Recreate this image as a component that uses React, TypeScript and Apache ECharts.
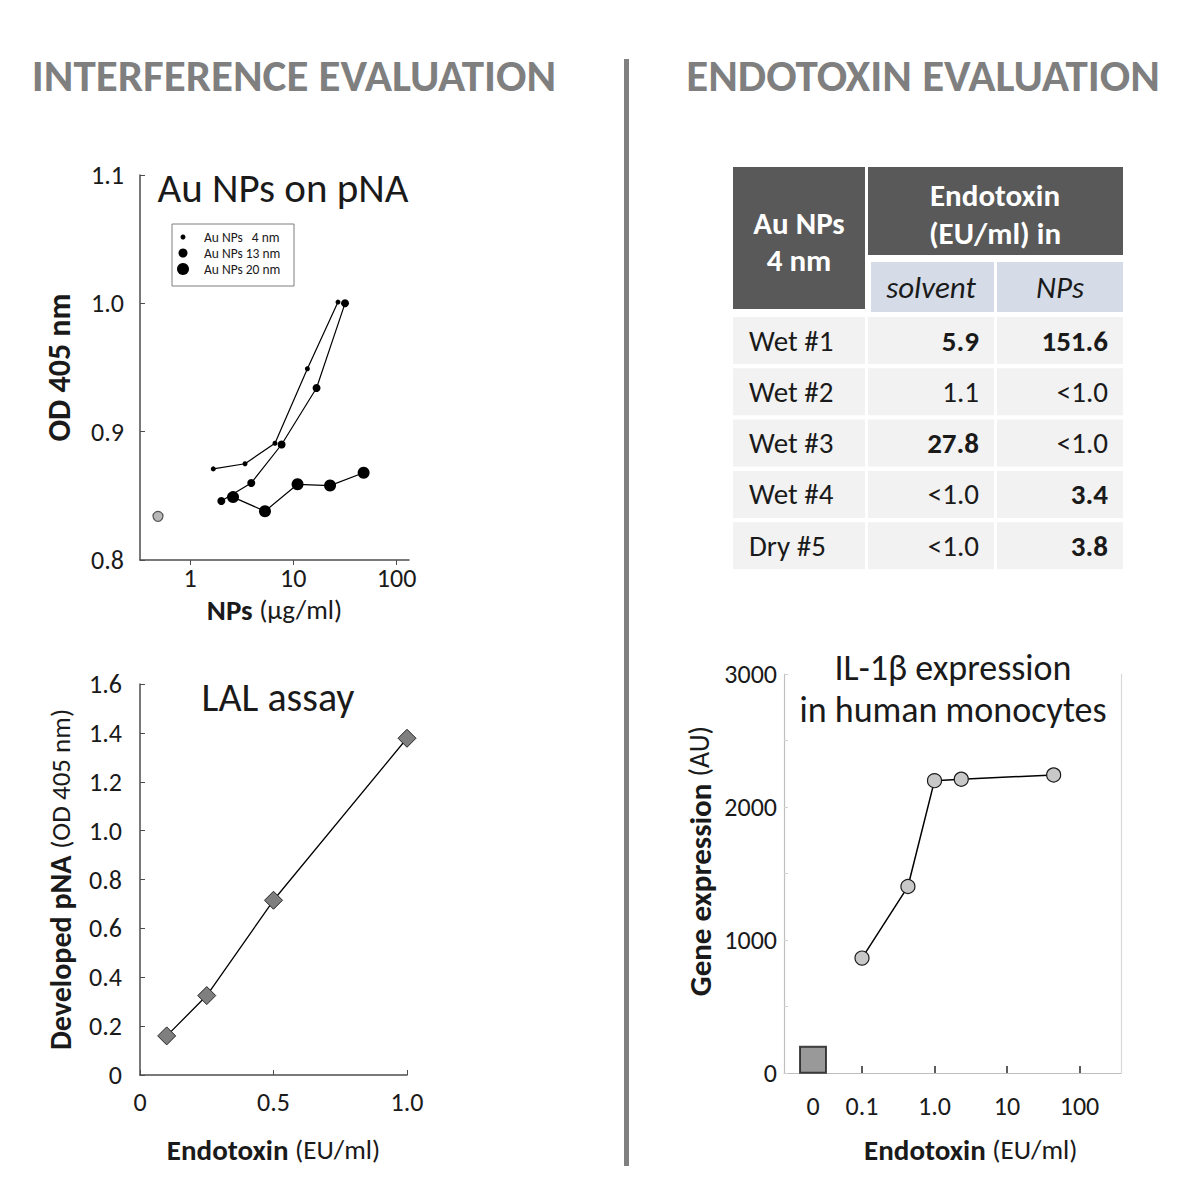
import React, { useEffect, useRef } from 'react';
import * as echarts from 'echarts';

const FONT = 'Carlito, Lato, "Open Sans", sans-serif';
const INK = '#1a1a1a';

// ---- Interference evaluation: Au NPs on pNA (OD 405 nm vs NPs µg/ml) ----
const np4X = [1.68, 3.41, 6.65, 13.7, 27.1];
const np4Y = [0.871, 0.875, 0.891, 0.949, 1.001];
const np13X = [2.01, 3.92, 7.71, 16.8, 31.7];
const np13Y = [0.846, 0.86, 0.89, 0.934, 1.0];
const np20X = [2.61, 5.32, 11.0, 22.7, 48.0];
const np20Y = [0.849, 0.838, 0.859, 0.858, 0.868];
const ctrlX = [0.49];
const ctrlY = [0.834];
const seriesNames = ['Au NPs   4 nm', 'Au NPs 13 nm', 'Au NPs 20 nm'];
const pnaXTicks = [1, 10, 100];

// ---- LAL assay ----
const lalX = [0.1, 0.25, 0.5, 1.0];
const lalY = [0.16, 0.325, 0.715, 1.378];

// ---- IL-1β expression ----
const ilX = [0.1, 0.43, 1.0, 2.34, 44];
const ilY = [864, 1402, 2198, 2209, 2241];
const ilZeroCat = ['0'];
const ilZeroY = [100];
const ilXLabels: Record<string, string> = { '0.1': '0.1', '1': '1.0', '10': '10', '100': '100' };

// ---- Endotoxin table ----
const tableRows = ['Wet #1', 'Wet #2', 'Wet #3', 'Wet #4', 'Dry #5'];
const solventVals = ['5.9', '1.1', '27.8', '<1.0', '<1.0'];
const npVals = ['151.6', '<1.0', '<1.0', '3.4', '3.8'];
const solventBold = [true, false, true, false, false];
const npBold = [true, false, false, true, true];

const zip = (xs: number[], ys: number[]) => xs.map((x, i) => [x, ys[i]]);

function buildTable(): any[] {
  const els: any[] = [];
  const dark = '#595959';
  const blue = '#d5dce8';
  const gray = '#f2f2f2';
  els.push({ type: 'rect', shape: { x: 733, y: 167, width: 132, height: 142 }, style: { fill: dark } });
  els.push({ type: 'text', x: 799, y: 241, style: { text: 'Au NPs\n4 nm', fill: '#fff', fontFamily: FONT, fontSize: 31, fontWeight: 'bold', lineHeight: 37, align: 'center', verticalAlign: 'middle' } });
  els.push({ type: 'rect', shape: { x: 868, y: 167, width: 255, height: 88 }, style: { fill: dark } });
  els.push({ type: 'text', x: 995, y: 214, style: { text: 'Endotoxin\n(EU/ml) in', fill: '#fff', fontFamily: FONT, fontSize: 31, fontWeight: 'bold', lineHeight: 38, align: 'center', verticalAlign: 'middle' } });
  els.push({ type: 'rect', shape: { x: 871, y: 262, width: 123, height: 50 }, style: { fill: blue } });
  els.push({ type: 'rect', shape: { x: 997, y: 262, width: 126, height: 50 }, style: { fill: blue } });
  els.push({ type: 'text', x: 931, y: 287, style: { text: 'solvent', fill: INK, fontFamily: FONT, fontSize: 31, fontStyle: 'italic', align: 'center', verticalAlign: 'middle' } });
  els.push({ type: 'text', x: 1060, y: 287, style: { text: 'NPs', fill: INK, fontFamily: FONT, fontSize: 31, fontStyle: 'italic', align: 'center', verticalAlign: 'middle' } });
  tableRows.forEach((r, i) => {
    const top = 317 + i * 51.3;
    const h = 47;
    const cy = top + h / 2;
    els.push({ type: 'rect', shape: { x: 733, y: top, width: 132, height: h }, style: { fill: gray } });
    els.push({ type: 'rect', shape: { x: 868, y: top, width: 126, height: h }, style: { fill: gray } });
    els.push({ type: 'rect', shape: { x: 997, y: top, width: 126, height: h }, style: { fill: gray } });
    els.push({ type: 'text', x: 749, y: cy, style: { text: r, fill: INK, fontFamily: FONT, fontSize: 29, align: 'left', verticalAlign: 'middle' } });
    els.push({ type: 'text', x: 979, y: cy, style: { text: solventVals[i], fill: INK, fontFamily: FONT, fontSize: 29, fontWeight: solventBold[i] ? 'bold' : 'normal', align: 'right', verticalAlign: 'middle' } });
    els.push({ type: 'text', x: 1108, y: cy, style: { text: npVals[i], fill: INK, fontFamily: FONT, fontSize: 29, fontWeight: npBold[i] ? 'bold' : 'normal', align: 'right', verticalAlign: 'middle' } });
  });
  return els;
}

const axisLineDark = { lineStyle: { color: '#4d4d4d', width: 1.5 } };
const labelStyle = { fontFamily: FONT, fontSize: 26, color: INK };
const nameRich = {
  b: { fontFamily: FONT, fontSize: 29, fontWeight: 'bold', color: INK },
  r: { fontFamily: FONT, fontSize: 27, color: INK },
};

function buildOption(): any {
  const legendCenters = [238, 254, 270];
  const legendSizes = [5, 9, 12];
  return {
    animation: false,
    backgroundColor: '#ffffff',
    textStyle: { fontFamily: FONT },
    grid: [
      { left: 140, top: 175, width: 269, height: 385, outerBoundsMode: 'none' },
      { left: 140, top: 684, width: 267, height: 391, outerBoundsMode: 'none' },
      { left: 784, top: 674, width: 337, height: 399, outerBoundsMode: 'none' },
      { left: 862, top: 674, width: 217.5, height: 399, outerBoundsMode: 'none' },
      { left: 800, top: 674, width: 26, height: 399, outerBoundsMode: 'none' },
    ],
    legend: seriesNames.map((n, i) => ({
      data: [{ name: n, icon: 'circle' }],
      left: 183 - legendSizes[i] / 2,
      top: legendCenters[i] - 8,
      itemWidth: legendSizes[i],
      itemHeight: legendSizes[i],
      padding: 0,
      selectedMode: false,
      textStyle: { fontFamily: FONT, fontSize: 13.5, color: INK, padding: [0, 0, 0, 16 - legendSizes[i] / 2] },
      z: 10,
    })),
    xAxis: [
      {
        gridIndex: 0, type: 'log', logBase: 10, min: 0.328, max: 132,
        axisLine: axisLineDark,
        axisTick: { inside: false, length: 5, lineStyle: { color: '#4d4d4d' }, customValues: pnaXTicks },
        axisLabel: { ...labelStyle, margin: 5, customValues: pnaXTicks, formatter: (v: number) => (pnaXTicks.includes(Math.round(v)) && Math.abs(v - Math.round(v)) < 1e-6 ? String(Math.round(v)) : '') },
        splitLine: { show: false },
        minorTick: { show: false },
        name: '{b|NPs }{r|(µg/ml)}', nameLocation: 'middle', nameGap: 35,
        nameTextStyle: { rich: nameRich },
      },
      {
        gridIndex: 1, type: 'value', min: 0, max: 1, interval: 0.5,
        axisLine: axisLineDark,
        axisTick: { inside: true, length: 5, lineStyle: { color: '#4d4d4d' } },
        axisLabel: { ...labelStyle, margin: 14, formatter: (v: number) => (v === 0 ? '0' : v.toFixed(1)) },
        splitLine: { show: false },
        name: '{b|Endotoxin }{r|(EU/ml)}', nameLocation: 'middle', nameGap: 60,
        nameTextStyle: { rich: nameRich },
      },
      {
        gridIndex: 2, type: 'value', min: 0, max: 1,
        axisLine: { lineStyle: { color: '#bfbfbf', width: 1.2 } },
        axisTick: { show: false }, axisLabel: { show: false }, splitLine: { show: false },
      },
      {
        gridIndex: 3, type: 'log', logBase: 10, min: 0.1, max: 100,
        axisLine: { show: false },
        axisTick: { inside: true, length: 7, lineStyle: { color: '#262626', width: 1.5 } },
        axisLabel: { ...labelStyle, margin: 20, formatter: (v: number) => ilXLabels[String(v)] ?? '' },
        splitLine: { show: false },
        minorTick: { show: false },
        name: '{b|Endotoxin }{r|(EU/ml)}', nameLocation: 'middle', nameGap: 62,
        nameTextStyle: { rich: nameRich },
      },
      {
        gridIndex: 4, type: 'category', data: ilZeroCat, boundaryGap: true,
        axisLine: { show: false }, axisTick: { show: false },
        axisLabel: { ...labelStyle, margin: 20 },
      },
    ],
    yAxis: [
      {
        gridIndex: 0, type: 'value', min: 0.8, max: 1.1, interval: 0.1,
        axisLine: { show: true, ...axisLineDark },
        axisTick: { show: true, inside: true, length: 5, lineStyle: { color: '#4d4d4d' } },
        axisLabel: { ...labelStyle, margin: 16, formatter: (v: number) => v.toFixed(1) },
        splitLine: { show: false },
        name: '{b|OD 405 nm}', nameLocation: 'middle', nameGap: 65,
        nameTextStyle: { rich: { b: { ...nameRich.b, fontSize: 32 } } },
      },
      {
        gridIndex: 1, type: 'value', min: 0, max: 1.6, interval: 0.2,
        axisLine: { show: true, ...axisLineDark },
        axisTick: { show: true, inside: true, length: 5, lineStyle: { color: '#4d4d4d' } },
        axisLabel: { ...labelStyle, margin: 18, formatter: (v: number) => (v === 0 ? '0' : v.toFixed(1)) },
        splitLine: { show: false },
        name: '{b|Developed pNA }{r|(OD 405 nm)}', nameLocation: 'middle', nameGap: 65,
        nameTextStyle: { rich: { b: { ...nameRich.b, fontSize: 30 }, r: { ...nameRich.r, fontSize: 27 } } },
      },
      {
        gridIndex: 2, type: 'value', min: 0, max: 3000, interval: 500,
        axisLine: { show: true, lineStyle: { color: '#bfbfbf', width: 1.2 } },
        axisTick: { show: true, inside: true, length: 4, lineStyle: { color: '#d0d0d0' } },
        axisLabel: { ...labelStyle, margin: 7, formatter: (v: number) => (v % 1000 === 0 ? String(v) : '') },
        splitLine: { show: false },
        name: '{b|Gene expression }{r|(AU)}', nameLocation: 'middle', nameGap: 69,
        nameTextStyle: { padding: [0, 0, 0, 25], rich: { b: { ...nameRich.b, fontSize: 31 }, r: { ...nameRich.r, fontSize: 28 } } },
      },
      {
        gridIndex: 2, type: 'value', min: 0, max: 3000, position: 'right',
        axisLine: { show: true, lineStyle: { color: '#d9d9d9', width: 1.2 } },
        axisTick: { show: false }, axisLabel: { show: false }, splitLine: { show: false },
      },
      { gridIndex: 3, type: 'value', min: 0, max: 3000, show: false },
      { gridIndex: 4, type: 'value', min: 0, max: 3000, show: false },
    ],
    series: [
      {
        name: seriesNames[0], type: 'line', xAxisIndex: 0, yAxisIndex: 0,
        data: zip(np4X, np4Y), symbol: 'circle', symbolSize: 5,
        itemStyle: { color: '#000' }, lineStyle: { color: '#000', width: 1.2 },
      },
      {
        name: seriesNames[1], type: 'line', xAxisIndex: 0, yAxisIndex: 0,
        data: zip(np13X, np13Y), symbol: 'circle', symbolSize: 8,
        itemStyle: { color: '#000' }, lineStyle: { color: '#000', width: 1.2 },
      },
      {
        name: seriesNames[2], type: 'line', xAxisIndex: 0, yAxisIndex: 0,
        data: zip(np20X, np20Y), symbol: 'circle', symbolSize: 12,
        itemStyle: { color: '#000' }, lineStyle: { color: '#000', width: 1.2 },
      },
      {
        name: 'Control', type: 'scatter', xAxisIndex: 0, yAxisIndex: 0,
        data: zip(ctrlX, ctrlY), symbol: 'circle', symbolSize: 10,
        itemStyle: { color: '#a6a6a6', borderColor: '#333', borderWidth: 1.2 },
      },
      {
        name: 'LAL assay', type: 'line', xAxisIndex: 1, yAxisIndex: 1,
        data: zip(lalX, lalY), symbol: 'diamond', symbolSize: 18,
        itemStyle: { color: '#7f7f7f', borderColor: '#262626', borderWidth: 1 },
        lineStyle: { color: '#000', width: 1.3 },
      },
      {
        name: 'IL-1β', type: 'line', xAxisIndex: 3, yAxisIndex: 4,
        data: zip(ilX, ilY), symbol: 'circle', symbolSize: 14,
        itemStyle: { color: '#c8c8c8', borderColor: '#1a1a1a', borderWidth: 1.2 },
        lineStyle: { color: '#000', width: 1.5 },
      },
      {
        name: 'IL-1β control', type: 'scatter', xAxisIndex: 4, yAxisIndex: 5,
        data: ilZeroCat.map((c, i) => [c, ilZeroY[i]]), symbol: 'rect', symbolSize: 26,
        itemStyle: { color: '#808080', borderColor: '#1a1a1a', borderWidth: 2 },
      },
    ],
    graphic: [
      { type: 'text', x: 294, y: 75, style: { text: 'INTERFERENCE EVALUATION', fill: '#7f7f7f', fontFamily: FONT, fontSize: 45, fontWeight: 'bold', align: 'center', verticalAlign: 'middle' } },
      { type: 'text', x: 923, y: 75, style: { text: 'ENDOTOXIN EVALUATION', fill: '#7f7f7f', fontFamily: FONT, fontSize: 45, fontWeight: 'bold', align: 'center', verticalAlign: 'middle' } },
      { type: 'rect', shape: { x: 624, y: 59, width: 5, height: 1107 }, style: { fill: '#808080' } },
      { type: 'text', x: 283, y: 188, style: { text: 'Au NPs on pNA', fill: INK, fontFamily: FONT, fontSize: 41, align: 'center', verticalAlign: 'middle' } },
      { type: 'rect', z: 5, shape: { x: 172, y: 224, width: 122, height: 62 }, style: { fill: '#fff', stroke: '#7f7f7f', lineWidth: 1 } },
      { type: 'text', x: 278, y: 697, style: { text: 'LAL assay', fill: INK, fontFamily: FONT, fontSize: 40, align: 'center', verticalAlign: 'middle' } },
      { type: 'text', x: 953, y: 689, style: { text: 'IL-1β expression\nin human monocytes', fill: INK, fontFamily: FONT, fontSize: 36, lineHeight: 42, align: 'center', verticalAlign: 'middle' } },
      ...buildTable(),
    ],
  };
}

export default function App() {
  const ref = useRef<HTMLDivElement>(null);
  useEffect(() => {
    document.body.style.margin = '0';
    const chart = echarts.init(ref.current!, null, { renderer: 'svg', width: 1200, height: 1200 });
    chart.setOption(buildOption());
    return () => chart.dispose();
  }, []);
  return <div ref={ref} style={{ width: 1200, height: 1200, position: 'absolute', left: 0, top: 0 }} />;
}
